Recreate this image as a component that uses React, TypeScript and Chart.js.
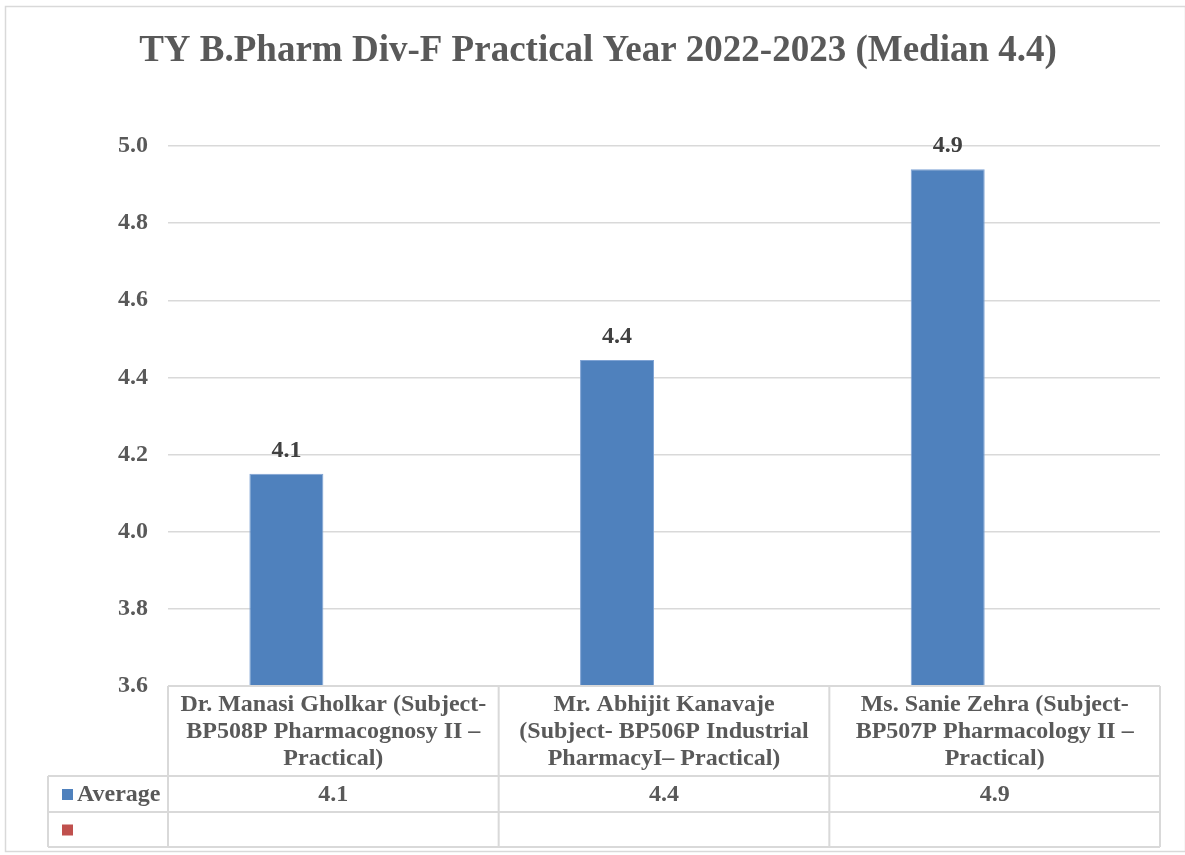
import React, { useEffect, useRef } from "react";
import { Chart, registerables } from "chart.js";

Chart.register(...registerables);

const chartTitle = "TY B.Pharm Div-F Practical Year 2022-2023 (Median 4.4)";
const categories: string[][] = [
  ["Dr. Manasi Gholkar (Subject-", "BP508P Pharmacognosy II –", "Practical)"],
  ["Mr. Abhijit Kanavaje", "(Subject- BP506P Industrial", "PharmacyI– Practical)"],
  ["Ms. Sanie Zehra (Subject-", "BP507P Pharmacology II –", "Practical)"],
];
const seriesNames = ["Average", ""];
const averageValues = [4.15, 4.445, 4.94];
const averageLabels = ["4.1", "4.4", "4.9"];
const emptySeries: (number | null)[] = [null, null, null];
const yMin = 3.6;
const yMax = 5.0;
const yStep = 0.2;

const FONT = "'Liberation Serif', 'Times New Roman', serif";
const TEXT = "#595959";
const GRID = "#d9d9d9";
const BLUE = "#4F81BD";
const RED = "#C0504D";

const decorPlugin = {
  id: "decor",
  afterDraw(chart: any) {
    const ctx = chart.ctx;
    const area = chart.chartArea;
    const xs = chart.scales.x;
    ctx.save();
    // outer border
    ctx.strokeStyle = GRID;
    ctx.lineWidth = 1.5;
    ctx.strokeRect(5.5, 6.5, 1180, 845);

    // title
    ctx.fillStyle = TEXT;
    ctx.font = `bold 37px ${FONT}`;
    ctx.textAlign = "center";
    ctx.textBaseline = "middle";
    ctx.fillText(chartTitle, 598, 51);

    // data labels
    const meta = chart.getDatasetMeta(0);
    ctx.fillStyle = "#404040";
    ctx.font = `bold 24px ${FONT}`;
    meta.data.forEach((bar: any, i: number) => {
      ctx.fillText(averageLabels[i], bar.x, bar.y - 23);
    });

    // data table
    const n = categories.length;
    const bounds: number[] = [area.left];
    for (let i = 0; i < n - 1; i++) {
      bounds.push((xs.getPixelForValue(i) + xs.getPixelForValue(i + 1)) / 2);
    }
    bounds.push(area.right);
    const top = area.bottom;
    const headerBottom = top + 90;
    const row1Bottom = headerBottom + 36;
    const row2Bottom = row1Bottom + 35;
    const legendLeft = 48;

    ctx.strokeStyle = GRID;
    ctx.lineWidth = 2;
    ctx.beginPath();
    ctx.moveTo(area.left, top);
    ctx.lineTo(area.right, top);
    [headerBottom, row1Bottom, row2Bottom].forEach((y) => {
      ctx.moveTo(legendLeft, y);
      ctx.lineTo(area.right, y);
    });
    bounds.forEach((x) => {
      ctx.moveTo(x, top);
      ctx.lineTo(x, row2Bottom);
    });
    ctx.moveTo(legendLeft, headerBottom);
    ctx.lineTo(legendLeft, row2Bottom);
    ctx.stroke();

    ctx.fillStyle = TEXT;
    ctx.font = `bold 24px ${FONT}`;
    ctx.textAlign = "center";
    categories.forEach((lines, i) => {
      const cx = (bounds[i] + bounds[i + 1]) / 2;
      lines.forEach((line, k) => {
        ctx.fillText(line, cx, top + 19 + k * 27);
      });
      ctx.fillText(averageLabels[i], cx, (headerBottom + row1Bottom) / 2 + 1);
    });

    // legend keys
    const r1 = (headerBottom + row1Bottom) / 2;
    const r2 = (row1Bottom + row2Bottom) / 2;
    ctx.fillStyle = BLUE;
    ctx.fillRect(62, r1 - 5, 11, 11);
    ctx.fillStyle = RED;
    ctx.fillRect(62, r2 - 5, 11, 11);
    ctx.fillStyle = TEXT;
    ctx.textAlign = "left";
    ctx.fillText(seriesNames[0], 77, r1 + 1);
    if (seriesNames[1]) ctx.fillText(seriesNames[1], 77, r2 + 1);
    ctx.restore();
  },
};

export default function App() {
  const ref = useRef<HTMLCanvasElement>(null);
  useEffect(() => {
    document.body.style.margin = "0";
    const canvas = ref.current!;
    const chart = new Chart(canvas, {
      type: "bar",
      data: {
        labels: categories.map((c) => c.join(" ")),
        datasets: [
          {
            label: seriesNames[0],
            data: averageValues,
            backgroundColor: BLUE,
            borderColor: "#7fa3d4",
            borderWidth: 1,
            categoryPercentage: 0.568,
            barPercentage: 0.788,
          },
          {
            label: seriesNames[1],
            data: emptySeries as any,
            backgroundColor: RED,
            categoryPercentage: 0.568,
            barPercentage: 0.788,
          },
        ],
      },
      options: {
        responsive: false,
        animation: false,
        devicePixelRatio: 1,
        layout: { padding: { left: 0, top: 146, right: 25, bottom: 169 } },
        plugins: {
          legend: { display: false },
          title: { display: false },
          tooltip: { enabled: false },
        },
        scales: {
          x: { display: false },
          y: {
            min: yMin,
            max: yMax,
            afterFit: (s: any) => {
              s.width = 168;
            },
            border: { display: false },
            grid: { color: GRID, lineWidth: 1.5, drawTicks: false },
            ticks: {
              stepSize: yStep,
              padding: 20,
              color: TEXT,
              font: { family: FONT, size: 24, weight: "bold" },
              callback: (v: any) => Number(v).toFixed(1),
            },
          },
        },
      },
      plugins: [decorPlugin],
    });
    return () => chart.destroy();
  }, []);
  return <canvas ref={ref} width={1185} height={855} style={{ display: "block" }} />;
}
